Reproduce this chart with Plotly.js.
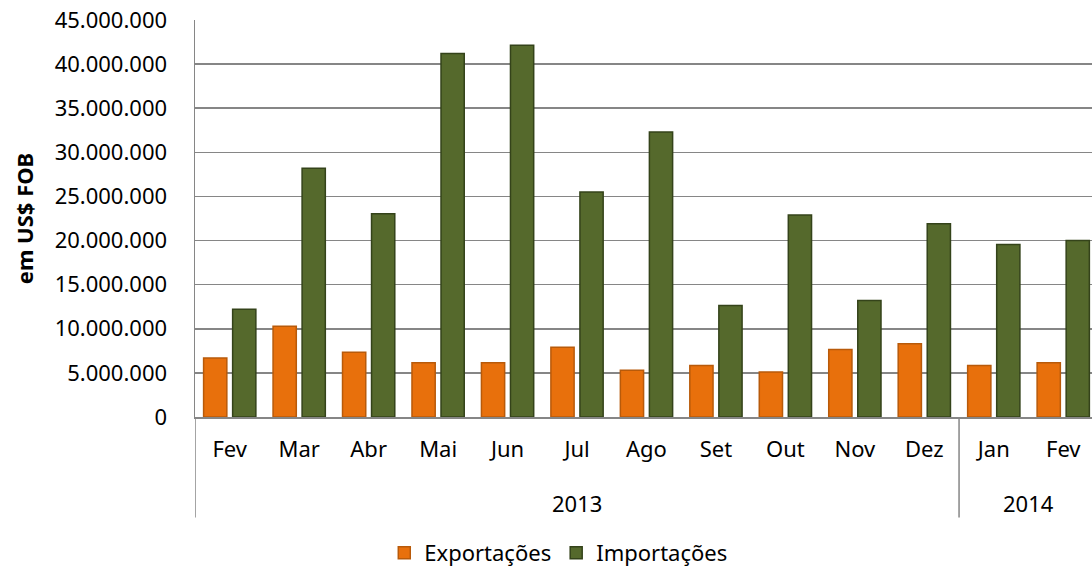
<!DOCTYPE html>
<html>
<head>
<meta charset="utf-8">
<script src="https://cdn.plot.ly/plotly-3.0.1.min.js"></script>
<style>html,body{margin:0;padding:0;background:#fff;}#chart{width:1092px;height:574px;}</style>
</head>
<body>
<div id="chart"></div>
<script>
const years = ['2013','2013','2013','2013','2013','2013','2013','2013','2013','2013','2013','2014','2014'];
const months = ['Fev','Mar','Abr','Mai','Jun','Jul','Ago','Set','Out','Nov','Dez','Jan','Fev'];
const exportacoes = [6700000,10300000,7350000,6150000,6150000,7900000,5300000,5850000,5100000,7650000,8300000,5850000,6150000];
const importacoes = [12200000,28200000,23050000,41200000,42150000,25500000,32300000,12650000,22900000,13200000,21900000,19550000,20000000];
const yTicks = [0,5000000,10000000,15000000,20000000,25000000,30000000,35000000,40000000,45000000];

const FONT = 'Noto Sans, Open Sans, sans-serif';
const GRID = '#868686';
const idx = months.map((m, i) => i);

const traces = [
  {type:'bar', name:'Exportações', x:idx, y:exportacoes,
   marker:{color:'#E8700C', line:{color:'#B85A0A', width:1.5}}},
  {type:'bar', name:'Importações', x:idx, y:importacoes,
   marker:{color:'#55692C', line:{color:'#34431A', width:1.5}}}
];

// year groups: label annotations + divider lines
const groups = [];
years.forEach((y, i) => {
  if (!groups.length || groups[groups.length-1].year !== y) groups.push({year:y, start:i, end:i});
  else groups[groups.length-1].end = i;
});
const annotations = groups.map(g => ({
  x:(g.start + g.end)/2, xref:'x', y:-0.216, yref:'paper', yanchor:'middle',
  text:g.year, showarrow:false, font:{family:FONT, size:22, color:'#000'}
}));
const shapes = groups.map(g => ({
  type:'line', xref:'x', yref:'paper', x0:g.start-0.5, x1:g.start-0.5, y0:0, y1:-0.253,
  line:{color:GRID, width:1.5}
}));

const layout = {
  width:1092, height:574,
  margin:{l:195, r:0, t:20, b:155},
  paper_bgcolor:'#ffffff', plot_bgcolor:'#ffffff',
  separators:',.',
  font:{family:FONT, size:22, color:'#000'},
  barmode:'group', bargap:0.164, bargroupgap:0.2,
  showlegend:true,
  legend:{orientation:'h', x:0.405, xanchor:'center', y:-0.343, yanchor:'middle',
          font:{family:FONT, size:22, color:'#000'}, itemwidth:30, tracegroupgap:0},
  annotations:annotations,
  shapes:shapes,
  xaxis:{range:[-0.5, 12.414], tickvals:idx, ticktext:months, showgrid:false,
         showline:true, linecolor:GRID, linewidth:1.5, zeroline:false,
         ticks:'', ticklabelstandoff:12,
         tickfont:{family:FONT, size:22, color:'#000'}},
  yaxis:{range:[0,45000000], tickvals:yTicks, tickformat:',d',
         showgrid:true, gridcolor:GRID, gridwidth:1.5,
         showline:true, linecolor:GRID, linewidth:1.5,
         zeroline:false, ticks:'', ticklabelstandoff:22,
         tickfont:{family:FONT, size:22, color:'#000'},
         title:{text:'<b>em US$ FOB</b>', font:{family:FONT, size:22, color:'#000'}, standoff:15}}
};
Plotly.newPlot('chart', traces, layout, {displayModeBar:false, staticPlot:true});
</script>
</body>
</html>
